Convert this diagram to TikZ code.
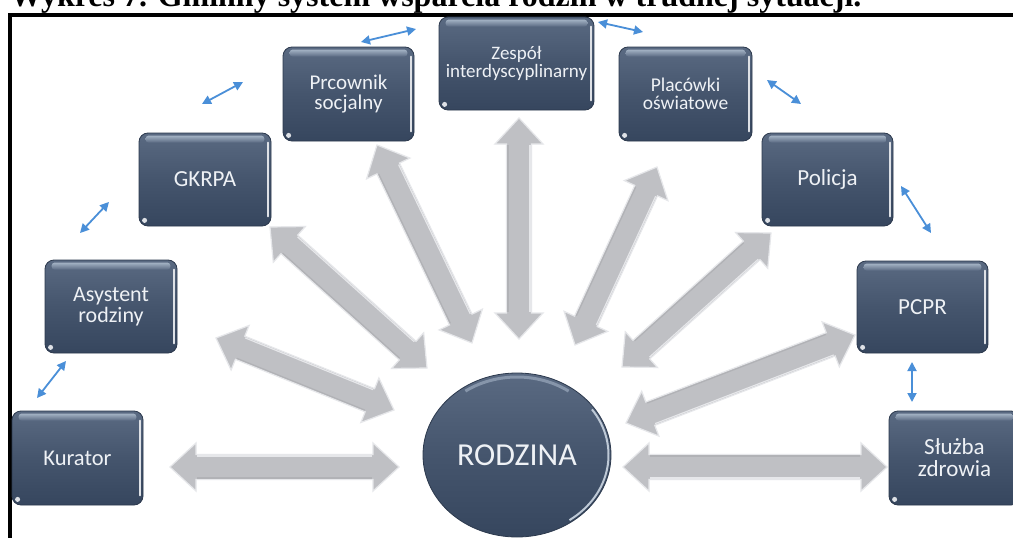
\documentclass[tikz,border=0pt]{standalone}
\usepackage{fontspec}
\setmainfont{Liberation Serif}
\newfontfamily\boxfont{Carlito}
\usetikzlibrary{arrows.meta,calc,shapes.geometric}
\definecolor{boxtop}{HTML}{5A6A82}
\definecolor{boxmid}{HTML}{45556D}
\definecolor{boxbot}{HTML}{36465E}
\definecolor{boxedge}{HTML}{2C394D}
\definecolor{boxtext}{HTML}{EEF1F5}
\definecolor{glossc}{HTML}{A3B2C4}
\definecolor{bluearr}{HTML}{4A8FD8}
\definecolor{arrfill}{HTML}{BFC0C4}
\definecolor{arrlight}{HTML}{E6E7EA}
\definecolor{arrdark}{HTML}{B1B2B6}

\newcommand\grayarr[2]{%
  \path let \p1=(#1), \p2=(#2), \n1={atan2(\y2-\y1,\x2-\x1)}, \n2={veclen(\x2-\x1,\y2-\y1)} in \pgfextra{\xdef\gaang{\n1}\xdef\galen{\n2}};
  \begin{scope}[shift={(#1)}, rotate=\gaang, x=1pt, y=1pt]
    \path[graybody]
      (0,0) -- (26,24) -- (26,12.5) -- (\galen-26,12.5) -- (\galen-26,24) -- (\galen,0)
      -- (\galen-26,-24) -- (\galen-26,-12.5) -- (26,-12.5) -- (26,-24) -- cycle;
    \path[draw=arrdark, line width=1.2pt] (27,-11) -- (\galen-27,-11);
    \path[draw=arrlight, line width=1.2pt] (27,11) -- (\galen-27,11);
  \end{scope}}

\begin{document}
\begin{tikzpicture}[x=1pt,y=-1pt,
  orgbox/.style={rectangle, rounded corners=9pt, draw=boxedge, line width=0.8pt,
    top color=boxtop, bottom color=boxbot, middle color=boxmid, text=boxtext, align=center,
    inner sep=2pt, minimum width=131pt, minimum height=94pt},
  graybody/.style={draw=arrlight, line width=1.2pt, fill=arrfill},
  bluelink/.style={draw=bluearr, line width=1.8pt, {Triangle[length=9pt,width=9pt]}-{Triangle[length=9pt,width=9pt]}},
  gloss/.style={top color=glossc, bottom color=boxtop, rounded corners=3pt},
  edgehl/.style={draw=white!80!boxtop, line width=2pt, line cap=round},
]
\useasboundingbox (0,0) rectangle (1013,538);
\clip (0,0) rectangle (1013,538);
\fill[white] (0,0) rectangle (1013,538);

% title (cut off at the top) and frame
\node[anchor=base west, inner sep=0pt, font=\bfseries\fontsize{32}{32}\selectfont] (title) at (10,6)
  {Wykres 7. Gminny system wsparcia rodzin w trudnej sytuacji.};
\draw[line width=3.5pt] (9.75,540) -- (9.75,15) -- (1015,15);

% gray arrow tips
\coordinate (g1a) at (170,467);  \coordinate (g1b) at (399,467);
\coordinate (g2a) at (216,338);  \coordinate (g2b) at (394,410);
\coordinate (g3a) at (270,227);  \coordinate (g3b) at (427,368);
\coordinate (g4a) at (377,145);  \coordinate (g4b) at (472,343);
\coordinate (g5a) at (519,118);  \coordinate (g5b) at (519,339);
\coordinate (g6a) at (657,167);  \coordinate (g6b) at (575,345);
\coordinate (g7a) at (771,233);  \coordinate (g7b) at (622,367);
\coordinate (g8a) at (855,335);  \coordinate (g8b) at (626,423);
\coordinate (g9a) at (887,467);  \coordinate (g9b) at (623,467);
\grayarr{g1a}{g1b}
\grayarr{g2a}{g2b}
\grayarr{g3a}{g3b}
\grayarr{g4a}{g4b}
\grayarr{g5a}{g5b}
\grayarr{g6a}{g6b}
\grayarr{g7a}{g7b}
\grayarr{g8a}{g8b}
\grayarr{g9a}{g9b}

% boxes
\node[orgbox, font={\boxfont\fontsize{22.5}{21}\selectfont}] (kur) at (77.5,458) {Kurator};
\node[orgbox, minimum width=132pt, minimum height=93pt, font={\boxfont\fontsize{22}{21}\selectfont}] (asy) at (111,306.5) {Asystent\\rodziny};
\node[orgbox, minimum width=132pt, minimum height=93pt, font={\boxfont\fontsize{23}{21}\selectfont}] (gkr) at (205,179.5) {GKRPA};
\node[orgbox, font={\boxfont\fontsize{21}{20}\selectfont}] (prc) at (348.5,94) {Prcownik\\socjalny};
\node[orgbox, minimum width=155pt, minimum height=93pt, font={\boxfont\fontsize{19}{18}\selectfont}] (zes) at (516.5,63.5) {Zespół\\interdyscyplinarny};
\node[orgbox, minimum width=133pt, font={\boxfont\fontsize{19.5}{18.5}\selectfont}] (pla) at (685.5,94) {Placówki\\oświatowe};
\node[orgbox, minimum height=93pt, font={\boxfont\fontsize{23}{21}\selectfont}] (pol) at (827.5,179.5) {Policja};
\node[orgbox, minimum height=92pt, font={\boxfont\fontsize{23}{21}\selectfont}] (pcpr) at (922.5,307) {PCPR};
\node[orgbox, font={\boxfont\fontsize{23}{22}\selectfont}] (slu) at (954.5,458) {Służba\\zdrowia};

\foreach \n in {kur,asy,gkr,prc,zes,pla,pol,pcpr,slu}{
  \path[gloss] ([xshift=7pt,yshift=-3pt]\n.north west) rectangle ([xshift=-7pt,yshift=-10pt]\n.north east);
  \path[edgehl] ([xshift=-3pt,yshift=-10pt]\n.north east) -- ([xshift=-3pt,yshift=10pt]\n.south east);
  \fill[white!80!boxtop] ([xshift=6pt,yshift=6pt]\n.south west) circle (2.5pt);
}

% central ellipse
\node[ellipse, draw=boxedge, line width=0.8pt, top color=boxtop, bottom color=boxbot, middle color=boxmid,
  minimum width=188pt, minimum height=164pt, text=boxtext, inner sep=0pt,
  font={\boxfont\fontsize{32}{32}\selectfont}] (rod) at (517,455) {RODZINA};
\draw[glossc!70!white, line width=2pt] (rod.center) ++(-55:91.5pt and 79.5pt)
  arc[start angle=-55, end angle=35, x radius=91.5pt, y radius=79.5pt];
\draw[glossc!60!boxtop, line width=3pt] (rod.center) ++(55:90pt and 78pt)
  arc[start angle=55, end angle=125, x radius=90pt, y radius=78pt];

% blue links between neighbouring boxes
\coordinate (b1a) at (37,398);  \coordinate (b1b) at (66,361);
\coordinate (b2a) at (80,233);  \coordinate (b2b) at (109,202);
\coordinate (b3a) at (202,104); \coordinate (b3b) at (243,82);
\coordinate (b4a) at (361,42);  \coordinate (b4b) at (416,29);
\coordinate (b5a) at (598,22);  \coordinate (b5b) at (643,32);
\coordinate (b6a) at (767,80);  \coordinate (b6b) at (801,104);
\coordinate (b7a) at (901,186); \coordinate (b7b) at (931,233);
\coordinate (b8a) at (912,362); \coordinate (b8b) at (912,402);
\foreach \i in {1,...,8}{ \draw[bluelink] (b\i a) -- (b\i b); }
\end{tikzpicture}
\end{document}
